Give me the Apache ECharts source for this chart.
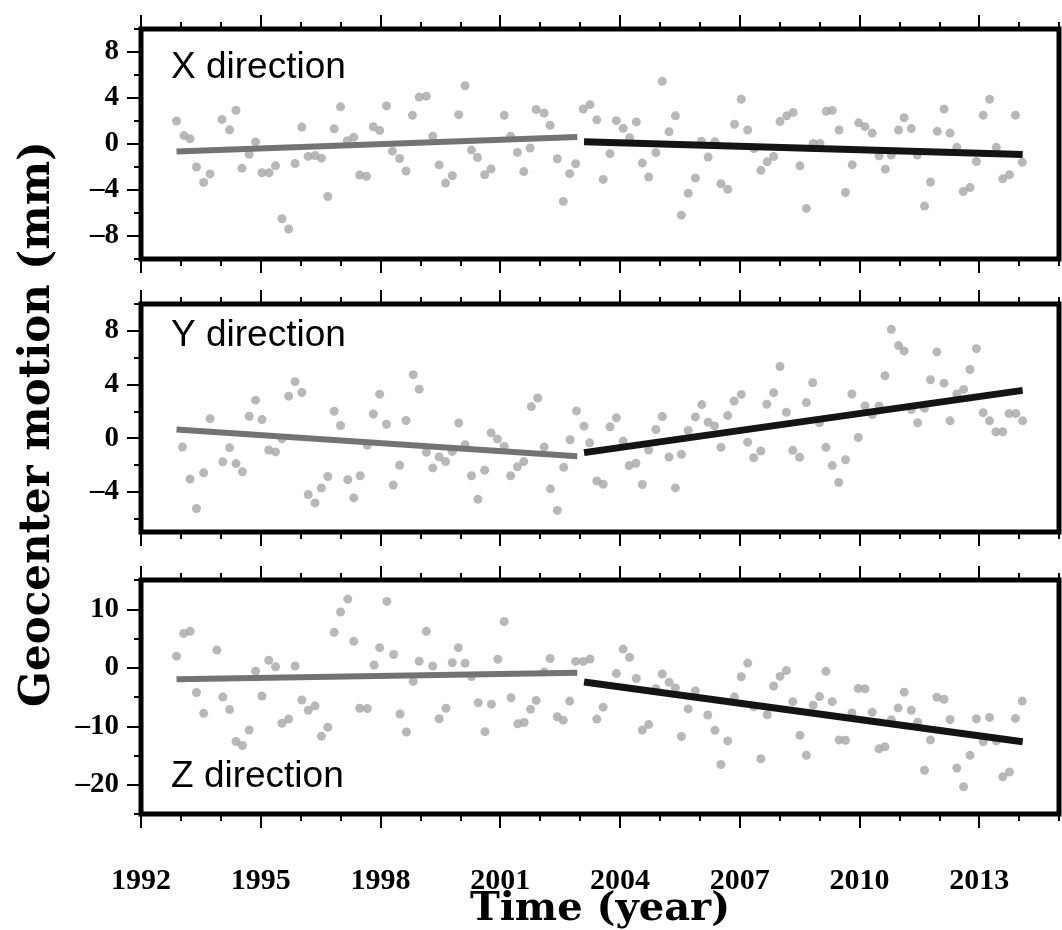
<!DOCTYPE html>
<html>
<head>
<meta charset="utf-8">
<title>Geocenter motion</title>
<script src="https://cdn.jsdelivr.net/npm/echarts@6/dist/echarts.min.js"></script>
<style>
  html, body { margin: 0; padding: 0; background: #fff; }
  #chart { width: 1062px; height: 930px; }
</style>
</head>
<body>
<div id="chart"></div>
<script>
// ---- data ----
var X_TIMES = [1992.89, 1993.08, 1993.23, 1993.39, 1993.57, 1993.73, 1994.03, 1994.22, 1994.38, 1994.53,
  1994.71, 1994.87, 1995.03, 1995.21, 1995.37, 1995.53, 1995.70, 1995.86, 1996.03, 1996.19,
  1996.36, 1996.52, 1996.68, 1996.84, 1997.00, 1997.17, 1997.33, 1997.48, 1997.65, 1997.82,
  1997.98, 1998.15, 1998.30, 1998.48, 1998.64, 1998.80, 1998.97, 1999.15, 1999.31, 1999.47,
  1999.63, 1999.80, 1999.96, 2000.12, 2000.28, 2000.43, 2000.61, 2000.77, 2001.10, 2001.26,
  2001.43, 2001.59, 2001.75, 2001.90, 2002.10, 2002.25, 2002.43, 2002.58, 2002.74, 2002.89,
  2003.08, 2003.25, 2003.42, 2003.58, 2003.75, 2003.91, 2004.08, 2004.24, 2004.41, 2004.56,
  2004.72, 2004.90, 2005.06, 2005.23, 2005.39, 2005.54, 2005.71, 2005.89, 2006.04, 2006.21,
  2006.38, 2006.53, 2006.70, 2006.87, 2007.04, 2007.20, 2007.36, 2007.53, 2007.69, 2007.85,
  2008.01, 2008.18, 2008.34, 2008.51, 2008.67, 2008.84, 2009.01, 2009.17, 2009.32, 2009.49,
  2009.65, 2009.82, 2009.98, 2010.14, 2010.32, 2010.49, 2010.65, 2010.80, 2010.98, 2011.12,
  2011.30, 2011.45, 2011.63, 2011.78, 2011.95, 2012.12, 2012.27, 2012.44, 2012.60, 2012.77,
  2012.93, 2013.10, 2013.26, 2013.43, 2013.59, 2013.76, 2013.91, 2014.08];
var X_VALUES = [2.0, 0.73, 0.45, -2.0, -3.34, -2.6, 2.14, 1.23, 2.93, -2.1,
  -0.9, 0.18, -2.5, -2.5, -1.9, -6.5, -7.4, -1.7, 1.47, -1.08,
  -1.0, -1.23, -4.57, 1.32, 3.23, 0.29, 0.59, -2.7, -2.8, 1.5,
  1.17, 3.31, -0.62, -1.26, -2.35, 2.49, 4.08, 4.16, 0.67, -1.82,
  -3.4, -2.76, 2.55, 5.07, -0.53, -1.17, -2.67, -2.17, 2.49, 0.67,
  -0.73, -2.4, -0.35, 3.0, 2.69, 1.63, -1.28, -4.99, -2.58, -1.72,
  3.04, 3.42, 2.1, -3.08, -0.84, 2.03, 1.36, 0.54, 1.92, -1.66,
  -2.87, -0.75, 5.45, 1.07, 2.45, -6.19, -4.28, -2.96, 0.25, -1.14,
  0.19, -3.46, -3.93, 1.72, 3.89, 1.22, -0.4, -2.28, -1.55, -1.09,
  1.95, 2.45, 2.75, -1.9, -5.6, 0.04, 0.04, 2.84, 2.92, 1.22,
  -4.22, -1.81, 1.84, 1.51, 0.95, -1.02, -2.19, -0.96, 1.22, 2.28,
  1.34, -0.96, -5.4, -3.31, 1.1, 3.04, 0.95, -0.29, -4.14, -3.79,
  -1.52, 2.51, 3.89, -0.29, -3.03, -2.67, 2.51, -1.58];

var Y_TIMES = [1993.04, 1993.23, 1993.39, 1993.57, 1993.73, 1994.05, 1994.22, 1994.38, 1994.54, 1994.71,
  1994.87, 1995.03, 1995.20, 1995.37, 1995.53, 1995.70, 1995.86, 1996.03, 1996.19, 1996.36,
  1996.52, 1996.68, 1996.84, 1997.00, 1997.18, 1997.33, 1997.49, 1997.67, 1997.82, 1997.98,
  1998.15, 1998.32, 1998.48, 1998.64, 1998.82, 1998.97, 1999.15, 1999.31, 1999.47, 1999.63,
  1999.80, 1999.96, 2000.12, 2000.28, 2000.44, 2000.61, 2000.77, 2000.93, 2001.10, 2001.26,
  2001.43, 2001.59, 2001.78, 2001.94, 2002.10, 2002.26, 2002.43, 2002.59, 2002.75, 2002.91,
  2003.10, 2003.24, 2003.42, 2003.58, 2003.75, 2003.91, 2004.08, 2004.23, 2004.40, 2004.56,
  2004.72, 2004.90, 2005.06, 2005.23, 2005.39, 2005.54, 2005.71, 2005.89, 2006.05, 2006.21,
  2006.37, 2006.53, 2006.70, 2006.86, 2007.04, 2007.20, 2007.35, 2007.53, 2007.68, 2007.85,
  2008.01, 2008.17, 2008.33, 2008.50, 2008.67, 2008.83, 2009.00, 2009.16, 2009.32, 2009.48,
  2009.65, 2009.81, 2009.97, 2010.14, 2010.32, 2010.49, 2010.64, 2010.80, 2010.98, 2011.12,
  2011.30, 2011.46, 2011.63, 2011.78, 2011.94, 2012.12, 2012.27, 2012.44, 2012.61, 2012.77,
  2012.93, 2013.10, 2013.26, 2013.42, 2013.59, 2013.75, 2013.92, 2014.09];
var Y_VALUES = [-0.67, -3.05, -5.25, -2.59, 1.45, -1.77, -0.71, -1.9, -2.51, 1.63,
  2.83, 1.38, -0.89, -1.03, -0.05, 3.13, 4.21, 3.4, -4.21, -4.83,
  -3.72, -2.86, 2.0, 0.94, -3.1, -4.46, -2.81, -0.54, 1.8, 3.28,
  1.03, -3.5, -2.02, 1.31, 4.73, 3.65, -1.06, -2.22, -1.4, -1.75,
  -0.99, 1.13, -0.49, -2.81, -4.56, -2.39, 0.39, -0.07, -0.62, -2.81,
  -2.14, -1.75, 2.35, 2.99, -0.67, -3.78, -5.39, -2.18, -0.12, 2.03,
  0.89, -0.35, -3.19, -3.44, 0.84, 1.51, -0.22, -2.05, -1.88, -3.46,
  -0.89, 0.64, 1.61, -1.41, -3.71, -1.21, 0.57, 1.58, 2.5, 1.19,
  0.91, -0.69, 1.68, 2.77, 3.26, -0.3, -1.46, -0.96, 2.52, 3.39,
  5.34, 1.93, -0.91, -1.43, 2.65, 4.13, 1.14, -0.69, -2.05, -3.31,
  -1.61, 3.29, 0.05, 2.4, 1.76, 2.4, 4.65, 8.11, 6.9, 6.5,
  2.13, 1.14, 2.22, 4.35, 6.43, 4.1, 1.29, 3.29, 3.63, 5.12,
  6.67, 1.9, 1.29, 0.47, 0.47, 1.83, 1.83, 1.29];

var Z_TIMES = [1992.89, 1993.07, 1993.23, 1993.39, 1993.57, 1993.90, 1994.05, 1994.22, 1994.38, 1994.54,
  1994.71, 1994.87, 1995.03, 1995.20, 1995.37, 1995.53, 1995.70, 1995.86, 1996.03, 1996.19,
  1996.36, 1996.52, 1996.68, 1996.84, 1997.00, 1997.18, 1997.33, 1997.48, 1997.67, 1997.84,
  1997.98, 1998.16, 1998.33, 1998.49, 1998.65, 1998.82, 1998.97, 1999.15, 1999.31, 1999.47,
  1999.64, 1999.80, 1999.95, 2000.12, 2000.28, 2000.45, 2000.62, 2000.78, 2000.94, 2001.10,
  2001.27, 2001.44, 2001.60, 2001.76, 2001.90, 2002.10, 2002.25, 2002.43, 2002.58, 2002.74,
  2002.89, 2003.08, 2003.25, 2003.42, 2003.58, 2003.91, 2004.08, 2004.24, 2004.41, 2004.56,
  2004.72, 2004.90, 2005.06, 2005.23, 2005.39, 2005.54, 2005.71, 2005.89, 2006.20, 2006.38,
  2006.53, 2006.70, 2006.87, 2007.04, 2007.20, 2007.35, 2007.53, 2007.69, 2007.85, 2008.01,
  2008.17, 2008.33, 2008.51, 2008.67, 2008.84, 2009.00, 2009.16, 2009.32, 2009.49, 2009.65,
  2009.81, 2009.97, 2010.14, 2010.32, 2010.49, 2010.64, 2010.80, 2010.97, 2011.12, 2011.30,
  2011.46, 2011.63, 2011.78, 2011.94, 2012.12, 2012.27, 2012.44, 2012.61, 2012.77, 2012.93,
  2013.10, 2013.26, 2013.43, 2013.59, 2013.76, 2013.91, 2014.08];
var Z_VALUES = [1.98, 5.87, 6.22, -4.24, -7.79, 3.02, -5.0, -7.15, -12.6, -13.3,
  -10.64, -0.58, -4.83, 1.28, 0.17, -9.48, -8.78, 0.29, -5.52, -7.27,
  -6.51, -11.69, -10.17, 6.05, 9.53, 11.74, 4.53, -6.92, -6.98, 0.47,
  3.43, 11.34, 2.27, -7.91, -10.99, -2.33, 1.1, 6.22, 0.29, -8.72,
  -6.92, 0.87, 3.43, 0.76, -1.51, -5.99, -10.93, -6.22, 1.45, 7.91,
  -5.12, -9.59, -9.36, -7.09, -5.58, -0.72, 1.59, -8.37, -8.96, -5.7,
  1.08, 1.08, 1.49, -8.78, -6.74, -1.0, 3.19, 1.79, -1.83, -10.66,
  -9.72, -3.58, -1.07, -2.48, -3.47, -11.76, -7.03, -3.95, -8.08, -10.7,
  -16.54, -12.51, -4.97, -1.54, 0.8, -6.68, -15.56, -8.03, -3.12, -1.48,
  -0.49, -5.8, -11.53, -14.97, -6.39, -4.93, -0.61, -5.8, -12.34, -12.4,
  -7.74, -3.54, -3.6, -7.62, -13.86, -13.51, -8.9, -6.86, -4.17, -7.26,
  -9.3, -17.53, -12.34, -5.04, -5.39, -8.84, -17.13, -20.34, -14.97, -8.73,
  -12.64, -8.49, -12.5, -18.65, -17.83, -8.66, -5.69];

// trend segments: [start, end] as [year, mm]
var X_TREND_EARLY = [[1992.89, -0.65], [2002.93, 0.6]];
var X_TREND_LATE = [[2003.10, 0.2], [2014.09, -0.92]];
var Y_TREND_EARLY = [[1992.89, 0.65], [2002.93, -1.35]];
var Y_TREND_LATE = [[2003.10, -1.08], [2014.09, 3.56]];
var Z_TREND_EARLY = [[1992.89, -1.95], [2002.93, -0.84]];
var Z_TREND_LATE = [[2003.10, -2.45], [2014.09, -12.65]];

// ticks
var YEAR_LABELS = [1992, 1995, 1998, 2001, 2004, 2007, 2010, 2013];
var YEAR_TICKS = [1992, 1993, 1994, 1995, 1996, 1997, 1998, 1999, 2000, 2001, 2002, 2003,
  2004, 2005, 2006, 2007, 2008, 2009, 2010, 2011, 2012, 2013, 2014, 2015];
var X_LABELS = [-8, -4, 0, 4, 8];
var X_MINOR = [-10, -8, -6, -4, -2, 0, 2, 4, 6, 8, 10];
var Y_LABELS = [-4, 0, 4, 8];
var Y_MINOR = [-6, -4, -2, 0, 2, 4, 6, 8, 10];
var Z_LABELS = [-20, -10, 0, 10];
var Z_MINOR = [-25, -20, -15, -10, -5, 0, 5, 10, 15];

var PANEL_NAMES = ['X direction', 'Y direction', 'Z direction'];

function zip(a, b) {
  var out = [];
  for (var i = 0; i < a.length; i++) out.push([a[i], b[i]]);
  return out;
}

var panels = [
  { top: 29, height: 230, min: -10, max: 10, labels: X_LABELS, minor: X_MINOR,
    times: X_TIMES, values: X_VALUES, early: X_TREND_EARLY, late: X_TREND_LATE, nameY: 68 },
  { top: 304, height: 228, min: -7, max: 10, labels: Y_LABELS, minor: Y_MINOR,
    times: Y_TIMES, values: Y_VALUES, early: Y_TREND_EARLY, late: Y_TREND_LATE, nameY: 336 },
  { top: 580, height: 234, min: -25, max: 15, labels: Z_LABELS, minor: Z_MINOR,
    times: Z_TIMES, values: Z_VALUES, early: Z_TREND_EARLY, late: Z_TREND_LATE, nameY: 777 }
];

var tickStyle = { color: '#000', width: 2 };
var SERIF = 'Liberation Serif';

var grids = [], xAxes = [], yAxes = [], series = [], texts = [];

panels.forEach(function (p, i) {
  grids.push({
    left: 141, right: 3, top: p.top, height: p.height,
    show: true, borderColor: '#000', borderWidth: 5, backgroundColor: 'transparent'
  });

  // bottom and top x axes: long ticks every 3 years, short ticks every year
  ['bottom', 'top'].forEach(function (pos) {
    xAxes.push({
      type: 'value', gridIndex: i, position: pos, min: 1992, max: 2015,
      axisLine: { show: false, onZero: false }, splitLine: { show: false },
      axisTick: { show: true, customValues: YEAR_LABELS, length: 14, lineStyle: tickStyle },
      axisLabel: {
        show: i === 2 && pos === 'bottom', customValues: YEAR_LABELS, margin: 52,
        fontFamily: SERIF, fontWeight: 'bold', fontSize: 30, color: '#000',
        formatter: function (v) { return String(v); }
      }
    });
    xAxes.push({
      type: 'value', gridIndex: i, position: pos, min: 1992, max: 2015,
      axisLine: { show: false, onZero: false }, splitLine: { show: false },
      axisTick: { show: true, customValues: YEAR_TICKS, length: 7, lineStyle: tickStyle },
      axisLabel: { show: false }
    });
  });

  yAxes.push({
    type: 'value', gridIndex: i, position: 'left', min: p.min, max: p.max,
    axisLine: { show: false, onZero: false }, splitLine: { show: false },
    axisTick: { show: true, customValues: p.labels, length: 14, lineStyle: tickStyle },
    axisLabel: {
      customValues: p.labels, margin: 22,
      fontFamily: SERIF, fontWeight: 'bold', fontSize: 29, color: '#000',
      formatter: function (v) { return String(v).replace('-', '\u2013'); }
    }
  });
  yAxes.push({
    type: 'value', gridIndex: i, position: 'left', min: p.min, max: p.max,
    axisLine: { show: false, onZero: false }, splitLine: { show: false },
    axisTick: { show: true, customValues: p.minor, length: 7, lineStyle: tickStyle },
    axisLabel: { show: false }
  });

  var xi = i * 4, yi = i * 2;
  series.push({
    type: 'scatter', xAxisIndex: xi, yAxisIndex: yi,
    data: zip(p.times, p.values),
    symbol: 'circle', symbolSize: 9,
    itemStyle: { color: '#a6a6a6' }, z: 2
  });
  series.push({
    type: 'line', xAxisIndex: xi, yAxisIndex: yi, data: p.early,
    showSymbol: false, lineStyle: { color: '#737373', width: 6, cap: 'butt' }, z: 3
  });
  series.push({
    type: 'line', xAxisIndex: xi, yAxisIndex: yi, data: p.late,
    showSymbol: false, lineStyle: { color: '#141414', width: 7, cap: 'butt' }, z: 3
  });

  texts.push({
    type: 'text', x: 171, y: p.nameY,
    style: {
      text: PANEL_NAMES[i], fontFamily: 'Liberation Sans', fontSize: 37, fill: '#000',
      align: 'left', verticalAlign: 'middle'
    }
  });
});

texts.push({
  type: 'text', x: 38, y: 424, rotation: Math.PI / 2,
  style: {
    text: 'Geocenter motion (mm)', fontFamily: 'DejaVu Serif', fontWeight: 'bold',
    fontSize: 42, fill: '#000', align: 'center', verticalAlign: 'middle'
  }
});
texts.push({
  type: 'text', x: 600, y: 910,
  style: {
    text: 'Time (year)', fontFamily: 'DejaVu Serif', fontWeight: 'bold',
    fontSize: 40, fill: '#000', align: 'center', verticalAlign: 'middle'
  }
});

var myChart = echarts.init(document.getElementById('chart'));
var option = {
  animation: false,
  backgroundColor: '#fff',
  grid: grids,
  xAxis: xAxes,
  yAxis: yAxes,
  series: series,
  graphic: texts
};
myChart.setOption(option);
</script>
</body>
</html>
